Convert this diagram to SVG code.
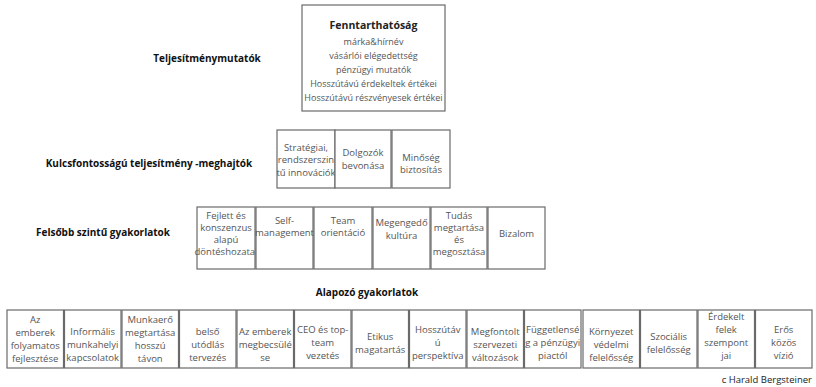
<svg xmlns="http://www.w3.org/2000/svg" width="816" height="387" viewBox="0 0 816 387">
<style>
.b{fill:#fff;stroke:#6a6a6a;stroke-width:1.2}
.t{font-family:"Open Sans","Liberation Sans",sans-serif;font-size:9.5px;fill:#555;text-anchor:middle}
.h{font-family:"Open Sans","Liberation Sans",sans-serif;font-size:10px;font-weight:bold;fill:#111;text-anchor:middle}
.c{font-family:"Open Sans","Liberation Sans",sans-serif;font-size:9.5px;fill:#222;text-anchor:end}
</style>
<rect width="816" height="387" fill="#fff"/>
<g id="labels">
<text class="h" x="207" y="62">Teljesítménymutatók</text>
<text class="h" x="149" y="167">Kulcsfontosságú teljesítmény -meghajtók</text>
<text class="h" x="103" y="236">Felsőbb szintű gyakorlatok</text>
<text class="h" x="367" y="296">Alapozó gyakorlatok</text>
<text class="c" x="812" y="383">c Harald Bergsteiner</text>
</g>
<g id="fenntarthatosag">
<rect class="b" x="302" y="5" width="143" height="106"/>
<text class="h" x="373.5" y="29" style="font-size:10.5px;fill:#222">Fenntarthatóság</text>
<text class="t" x="373.5" y="45" style="font-size:9px">márka&amp;hírnév</text>
<text class="t" x="373.5" y="59" style="font-size:9px">vásárlói elégedettség</text>
<text class="t" x="373.5" y="73" style="font-size:9px">pénzügyi mutatók</text>
<text class="t" x="373.5" y="87" style="font-size:9px">Hosszútávú érdekeltek értékei</text>
<text class="t" x="373.5" y="101" style="font-size:9px">Hosszútávú részvényesek értékei</text>
</g>
<g id="kd1"><rect class="b" x="277" y="130" width="58" height="58"/>
<text class="t" x="306" y="150.5">Stratégiai,</text><text class="t" x="306" y="163">rendszerszin</text><text class="t" x="306" y="175.5">tű innovációk</text></g>
<g id="kd2"><rect class="b" x="335" y="130" width="56" height="58"/>
<text class="t" x="363" y="156">Dolgozók</text><text class="t" x="363" y="168.5">bevonása</text></g>
<g id="kd3"><rect class="b" x="392" y="130" width="58" height="58"/>
<text class="t" x="421" y="160.5">Minőség</text><text class="t" x="421" y="172.5">biztosítás</text></g>
<g id="hp1"><rect class="b" x="197" y="207" width="58" height="62"/>
<text class="t" x="226" y="218.5">Fejlett és</text><text class="t" x="226" y="230.5">konszenzus</text><text class="t" x="226" y="242.5">alapú</text><text class="t" x="226" y="254.5">döntéshozatal</text></g>
<g id="hp2"><rect class="b" x="256" y="207" width="57" height="62"/>
<text class="t" x="284.5" y="223.5">Self-</text><text class="t" x="284.5" y="235.5">management</text></g>
<g id="hp3"><rect class="b" x="314" y="207" width="58" height="62"/>
<text class="t" x="343" y="223.5">Team</text><text class="t" x="343" y="236">orientáció</text></g>
<g id="hp4"><rect class="b" x="373" y="207" width="57" height="62"/>
<text class="t" x="401.5" y="226">Megengedő</text><text class="t" x="401.5" y="238.5">kultúra</text></g>
<g id="hp5"><rect class="b" x="431" y="207" width="56" height="62"/>
<text class="t" x="459" y="218.5">Tudás</text><text class="t" x="459" y="230.5">megtartása</text><text class="t" x="459" y="242.5">és</text><text class="t" x="459" y="254.5">megosztása</text></g>
<g id="hp6"><rect class="b" x="488" y="207" width="57" height="62"/>
<text class="t" x="516.5" y="236.5">Bizalom</text></g>
<g id="f1"><rect class="b" x="7" y="310" width="56.5" height="58"/>
<text class="t" x="35.2" y="323">Az</text><text class="t" x="35.2" y="336">emberek</text><text class="t" x="35.2" y="349">folyamatos</text><text class="t" x="35.2" y="362">fejlesztése</text></g>
<g id="f2"><rect class="b" x="64.5" y="310" width="56.5" height="58"/>
<text class="t" x="92.7" y="335">Informális</text><text class="t" x="92.7" y="348">munkahelyi</text><text class="t" x="92.7" y="361">kapcsolatok</text></g>
<g id="f3"><rect class="b" x="122" y="310" width="56.5" height="58"/>
<text class="t" x="150.2" y="323">Munkaerő</text><text class="t" x="150.2" y="336">megtartása</text><text class="t" x="150.2" y="349">hosszú</text><text class="t" x="150.2" y="362">távon</text></g>
<g id="f4"><rect class="b" x="179.5" y="310" width="56.5" height="58"/>
<text class="t" x="207.7" y="335">belső</text><text class="t" x="207.7" y="348">utódlás</text><text class="t" x="207.7" y="361">tervezés</text></g>
<g id="f5"><rect class="b" x="237" y="310" width="56.5" height="58"/>
<text class="t" x="265.2" y="335">Az emberek</text><text class="t" x="265.2" y="348">megbecsülé</text><text class="t" x="265.2" y="361">se</text></g>
<g id="f6"><rect class="b" x="294.5" y="310" width="56.5" height="58"/>
<text class="t" x="322.7" y="333">CEO és top-</text><text class="t" x="322.7" y="346">team</text><text class="t" x="322.7" y="359">vezetés</text></g>
<g id="f7"><rect class="b" x="352" y="310" width="56.5" height="58"/>
<text class="t" x="380.2" y="340">Etikus</text><text class="t" x="380.2" y="353">magatartás</text></g>
<g id="f8"><rect class="b" x="409.5" y="310" width="56.5" height="58"/>
<text class="t" x="437.7" y="333">Hosszútáv</text><text class="t" x="437.7" y="346">ú</text><text class="t" x="437.7" y="359">perspektíva</text></g>
<g id="f9"><rect class="b" x="467" y="310" width="56.5" height="58"/>
<text class="t" x="495.2" y="335">Megfontolt</text><text class="t" x="495.2" y="348">szervezeti</text><text class="t" x="495.2" y="361">változások</text></g>
<g id="f10"><rect class="b" x="524.5" y="310" width="56.5" height="58"/>
<text class="t" x="552.7" y="333">Függetlensé</text><text class="t" x="552.7" y="346">g a pénzügyi</text><text class="t" x="552.7" y="359">piactól</text></g>
<g id="f11"><rect class="b" x="583" y="310" width="56.5" height="58"/>
<text class="t" x="611.2" y="335">Környezet</text><text class="t" x="611.2" y="348">védelmi</text><text class="t" x="611.2" y="361">felelősség</text></g>
<g id="f12"><rect class="b" x="640.5" y="310" width="56.5" height="58"/>
<text class="t" x="668.7" y="340">Szociális</text><text class="t" x="668.7" y="353">felelősség</text></g>
<g id="f13"><rect class="b" x="698" y="310" width="56.5" height="58"/>
<text class="t" x="726.2" y="320">Érdekelt</text><text class="t" x="726.2" y="333">felek</text><text class="t" x="726.2" y="346">szempont</text><text class="t" x="726.2" y="359">jai</text></g>
<g id="f14"><rect class="b" x="755.5" y="310" width="56.5" height="58"/>
<text class="t" x="783.7" y="333">Erős</text><text class="t" x="783.7" y="346">közös</text><text class="t" x="783.7" y="359">vízió</text></g>
<g id="connectors"></g>
</svg>
